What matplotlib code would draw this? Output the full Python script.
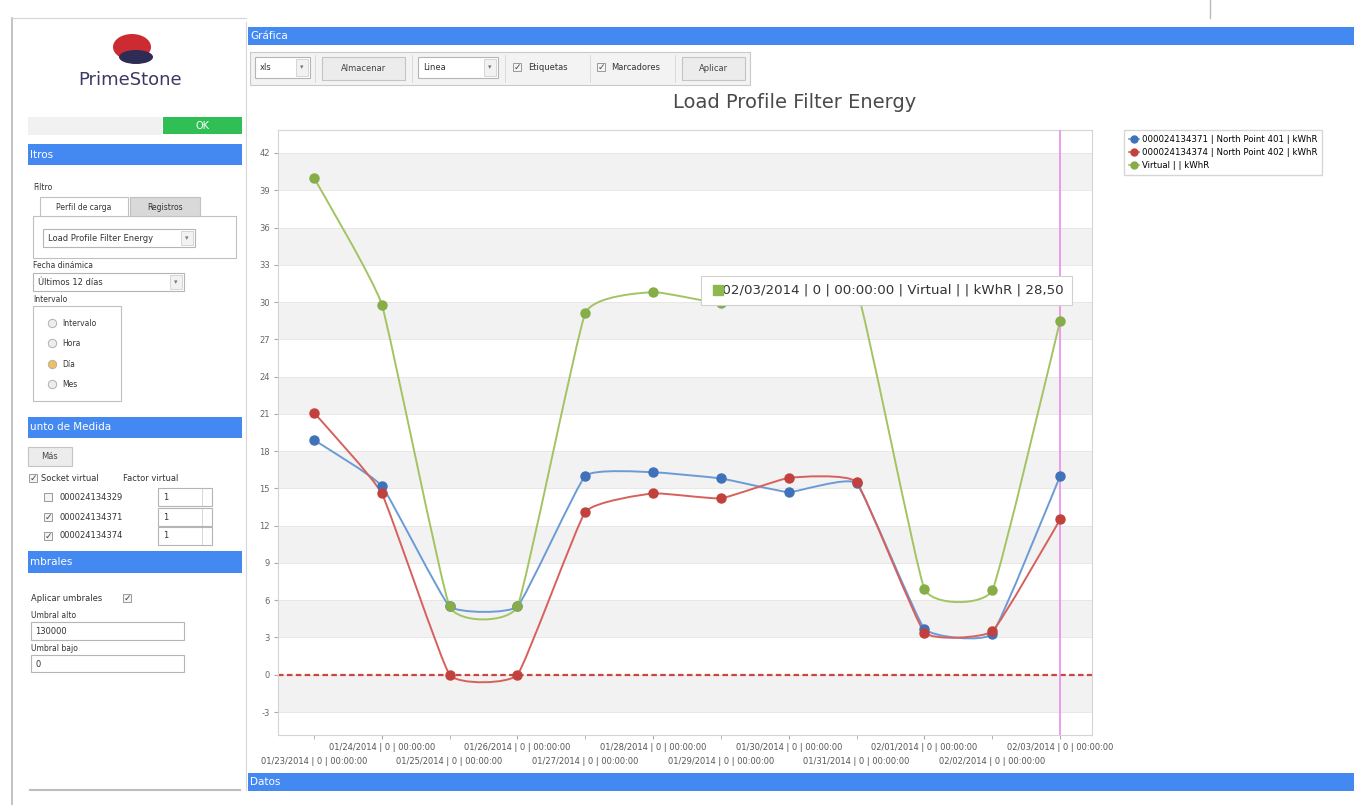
"""
Load Profile Filter Energy - recreación de la pantalla de PrimeStone.

La gráfica central (tres series suavizadas, umbral en 0 y cursor vertical)
se dibuja con matplotlib; el resto de la pantalla son rectángulos y textos
colocados en píxeles sobre la figura.
"""

import matplotlib
matplotlib.use("Agg")
import matplotlib.pyplot as plt
import numpy as np
from matplotlib.path import Path
from matplotlib.patches import PathPatch, Rectangle, Ellipse
from matplotlib.lines import Line2D

W, H = 1354, 805

# datos (un valor por día)
fechas = ["01/23/2014", "01/24/2014", "01/25/2014", "01/26/2014",
          "01/27/2014", "01/28/2014", "01/29/2014", "01/30/2014",
          "01/31/2014", "02/01/2014", "02/02/2014", "02/03/2014"]
np401 = [18.9, 15.2, 5.5, 5.5, 16.0, 16.3, 15.8, 14.7, 15.4, 3.7, 3.3, 16.0]
np402 = [21.1, 14.6, 0.0, 0.0, 13.1, 14.6, 14.2, 15.85, 15.5, 3.4, 3.5, 12.5]
virtual = [40.0, 29.8, 5.5, 5.5, 29.1, 30.8, 29.9, 30.6, 31.0, 6.9, 6.8, 28.5]
nombres = ["000024134371 | North Point 401 | kWhR",
           "000024134374 | North Point 402 | kWhR",
           "Virtual | | kWhR"]
umbral_bajo = 0
y_ticks = list(range(-3, 43, 3))

colores_linea = ["#6b9bd6", "#d6615c", "#a2c462"]
colores_punto = ["#3f72b9", "#c2413d", "#86ad48"]


def spline_path(xs, ys, s=0.35):
    """Curva Bézier tipo Catmull-Rom con tensión reducida."""
    p = np.column_stack([xs, ys]).astype(float)
    n = len(p)
    verts = [p[0]]
    codes = [Path.MOVETO]
    for i in range(n - 1):
        p0 = p[max(i - 1, 0)]
        p1 = p[i]
        p2 = p[i + 1]
        p3 = p[min(i + 2, n - 1)]
        verts += [p1 + s * (p2 - p0) / 6, p2 - s * (p3 - p1) / 6, p2]
        codes += [Path.CURVE4] * 3
    return Path(verts, codes)


fig = plt.figure(figsize=(W / 100, H / 100), dpi=100)
fig.patch.set_facecolor("white")


# --- ayudas para la interfaz (coordenadas en píxeles) ---
def prect(x, y, w, h, fc="white", ec="none", lw=0.8):
    fig.add_artist(Rectangle((x / W, 1 - (y + h) / H), w / W, h / H,
                             transform=fig.transFigure, fc=fc, ec=ec, lw=lw))


def ptext(x, y, s, size=6, color="#333333", ha="left", **kw):
    fig.text(x / W, 1 - y / H, s, fontsize=size, color=color, ha=ha,
             va="center", **kw)


def pline(xs, ys, color="#c8c8c8", lw=0.8):
    fig.add_artist(Line2D([v / W for v in xs], [1 - v / H for v in ys],
                          transform=fig.transFigure, color=color, lw=lw))


def pmark(x, y, marker, size, fc, ec):
    fig.add_artist(Line2D([x / W], [1 - y / H], marker=marker, ms=size,
                          mfc=fc, mec=ec, mew=0.7, ls="none",
                          transform=fig.transFigure))


def checkbox(x, y, checked=True):
    pmark(x, y, "s", 6, "#f4f4f4", "#9a9a9a")
    if checked:
        ptext(x, y, "✓", size=6.5, color="#444444", ha="center")


def combo(x, y, w, h, label):
    prect(x, y, w, h, ec="#b5b5b5")
    prect(x + w - 14, y + 2, 12, h - 4, fc="#f2f2f2", ec="#c8c8c8", lw=0.5)
    ptext(x + w - 8, y + h / 2, "▾", size=5, color="#777777", ha="center")
    ptext(x + 5, y + h / 2, label)


def boton(x, y, w, h, label):
    prect(x, y, w, h, fc="#ececec", ec="#c4c4c4")
    ptext(x + w / 2, y + h / 2, label, ha="center", color="#444444")


def barra(x, y, w, h, label):
    prect(x, y, w, h, fc="#4489f2")
    ptext(x + 2, y + h / 2, label, size=7.5, color="white")


# marco general
pline([12, 12], [18, 805], "#b9b9b9", 1.2)
pline([12, 246], [18, 18], "#d5d5d5", 0.8)
pline([1210, 1210], [0, 18], "#b9b9b9", 1.0)
pline([246, 246], [22, 790], "#d8d8d8", 0.8)

# panel izquierdo
fig.add_artist(Ellipse((132 / W, 1 - 47 / H), 38 / W, 26 / H,
                       transform=fig.transFigure, fc="#cc2b31", ec="none"))
fig.add_artist(Ellipse((136 / W, 1 - 57 / H), 34 / W, 14 / H,
                       transform=fig.transFigure, fc="#2e2c55", ec="none"))
ptext(130, 80, "PrimeStone", size=13, color="#3b3963", ha="center")
prect(28, 117, 134, 18, fc="#f1f1f1")
prect(163, 117, 79, 17, fc="#2fbf55")
ptext(203, 126, "OK", size=7, color="white", ha="center")
barra(28, 144, 214, 21, "ltros")
ptext(33, 188, "Filtro", size=5.5)
prect(33, 216, 203, 42, ec="#c0c0c0")
prect(40, 197, 88, 19, ec="#c0c0c0")
prect(130, 197, 70, 19, fc="#d9d9d9", ec="#c0c0c0")
ptext(84, 207, "Perfil de carga", size=5.5, ha="center")
ptext(165, 207, "Registros", size=5.5, ha="center")
combo(43, 229, 152, 18, "Load Profile Filter Energy")
ptext(33, 266, "Fecha dinámica", size=5.5)
combo(33, 273, 151, 18, "Últimos 12 días")
ptext(33, 299, "Intervalo", size=5.5)
prect(33, 306, 88, 95, ec="#c0c0c0")
for yy, lab, sel in [(323, "Intervalo", False), (343, "Hora", False),
                     (364, "Día", True), (384, "Mes", False)]:
    pmark(52, yy, "o", 6, "#f0c060" if sel else "#ededed", "#b0b0b0")
    ptext(62, yy, lab, size=5.5)
barra(28, 417, 214, 21, "unto de Medida")
boton(28, 447, 44, 19, "Más")
checkbox(33, 478)
ptext(41, 478, "Socket virtual", size=6)
ptext(123, 478, "Factor virtual", size=6)
for yy, lab, chk in [(497, "000024134329", False), (517, "000024134371", True),
                     (536, "000024134374", True)]:
    checkbox(48, yy, chk)
    ptext(59, yy, lab, size=6)
    prect(158, yy - 9, 54, 18, ec="#b5b5b5")
    ptext(163, yy, "1", size=6)
    pline([202, 202], [yy - 8, yy + 8], "#d0d0d0", 0.6)
barra(28, 551, 214, 22, "mbrales")
ptext(31, 598, "Aplicar umbrales", size=6)
checkbox(127, 598)
ptext(31, 615, "Umbral alto", size=5.5)
prect(31, 622, 153, 18, ec="#b5b5b5")
ptext(35, 631, "130000", size=6)
ptext(31, 648, "Umbral bajo", size=5.5)
prect(31, 655, 153, 17, ec="#b5b5b5")
ptext(35, 664, "0", size=6)
pline([30, 240], [790, 790], "#bdbdbd", 1.5)

# barra superior y herramientas
barra(248, 27, 1106, 18, "Gráfica")
prect(250, 52, 500, 33, fc="#f3f3f3", ec="#c9c9c9")
combo(255, 57, 55, 21, "xls")
boton(322, 57, 83, 23, "Almacenar")
combo(418, 57, 80, 21, "Linea")
checkbox(517, 67)
ptext(528, 67, "Etiquetas", size=6)
checkbox(601, 67)
ptext(611, 67, "Marcadores", size=6)
boton(682, 57, 63, 23, "Aplicar")
for xx in [315, 412, 505, 590, 675]:
    pline([xx, xx], [55, 82], "#d6d6d6", 0.6)
barra(248, 773, 1106, 18, "Datos")

ptext(795, 103, "Load Profile Filter Energy", size=14, color="#4a4a4a",
      ha="center")

# --- gráfica ---
ax = fig.add_axes([278 / W, 1 - 735 / H, 814 / W, 605 / H])
x = np.arange(len(fechas))
ax.set_xlim(-0.53, len(fechas) - 0.53)
ax.set_ylim(-4.85, 43.85)

for lo in y_ticks[:-1]:
    if (lo // 3) % 2 == 1:
        ax.axhspan(lo, lo + 3, color="#f2f2f2", lw=0, zorder=0)
for t in y_ticks:
    ax.axhline(t, color="#e4e4e4", lw=0.6, zorder=0.5)

series = [np401, np402, virtual]
handles = []
for vals, lc, mc, nom in zip(series, colores_linea, colores_punto, nombres):
    ax.add_patch(PathPatch(spline_path(x, vals), fc="none", ec=lc, lw=1.4,
                           zorder=2))
    ax.plot(x, vals, "o", ms=6.5, mfc=mc, mec=mc, zorder=3)
    handles.append(Line2D([], [], color=lc, marker="o", ms=5, mfc=mc,
                          mec=mc, lw=1.2))

ax.axhline(umbral_bajo, color="#c9463f", lw=1.6, ls=(0, (2.5, 1.5)), zorder=2.5)
ax.axvline(x[-1], color="#e98ee9", lw=1.2, zorder=2.6)

ax.set_yticks(y_ticks)
ax.set_yticklabels([str(t) for t in y_ticks], fontsize=6, color="#666666")
ax.set_xticks(x[1::2])
ax.set_xticklabels([f + " | 0 | 00:00:00" for f in fechas[1::2]],
                   fontsize=6, color="#555555")
ax.set_xticks(x[0::2], minor=True)
ax.set_xticklabels([f + " | 0 | 00:00:00" for f in fechas[0::2]],
                   minor=True, fontsize=6, color="#555555")
ax.tick_params(axis="x", which="major", length=3, pad=3, color="#aaaaaa")
ax.tick_params(axis="x", which="minor", length=3, pad=13, color="#aaaaaa")
ax.tick_params(axis="y", length=3, pad=3, color="#aaaaaa")
for sp in ax.spines.values():
    sp.set_color("#d4d4d4")
    sp.set_linewidth(0.8)

# cuadro del punto seleccionado; el hueco inicial lleva el cuadrado verde
etiqueta = "\u2003" + fechas[-1] + " | 0 | 00:00:00 | " + nombres[2] + " | 28,50"
ax.text(5.83, virtual[-1] + 2.45, etiqueta, fontsize=9.6, color="#333333",
        ha="left", va="center", zorder=5,
        bbox=dict(boxstyle="square,pad=0.6", fc="white", ec="#d0d0d0",
                  lw=0.8))
ax.plot([5.95], [virtual[-1] + 2.45], "s", ms=7, mfc="#8cb84f",
        mec="#8cb84f", zorder=6)

fig.legend(handles=handles, labels=nombres, loc="upper left",
           bbox_to_anchor=(1120 / W, 1 - 126 / H), fontsize=6.2,
           frameon=True, fancybox=False, edgecolor="#cccccc",
           handlelength=1.2, handletextpad=0.4, labelspacing=0.5,
           borderpad=0.5)

fig.savefig("out.png", dpi=100)
